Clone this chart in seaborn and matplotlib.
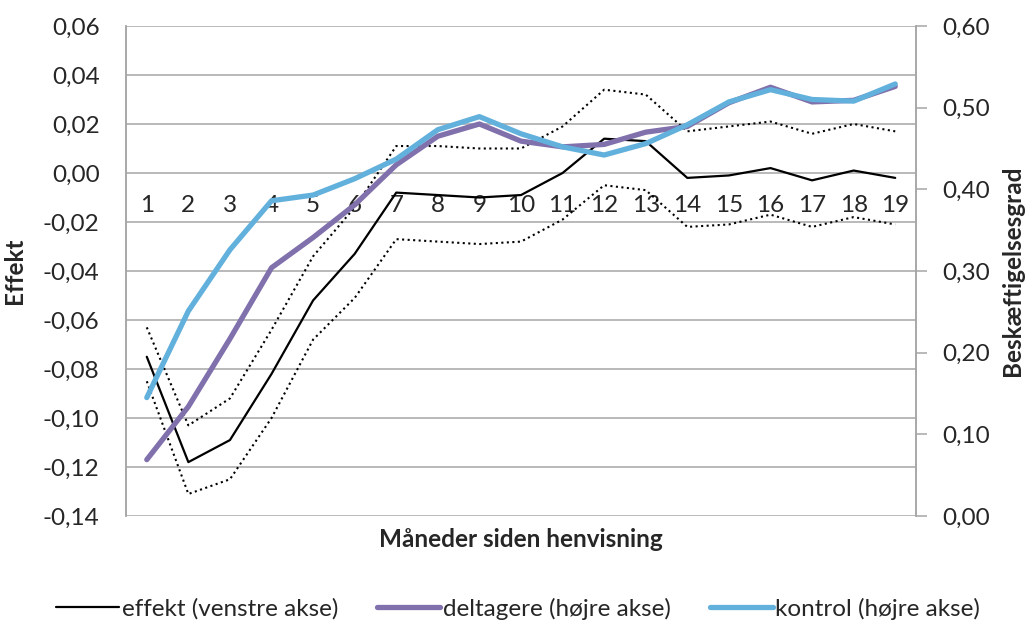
import numpy as np
import pandas as pd
import matplotlib
matplotlib.use("Agg")
import matplotlib.pyplot as plt
from matplotlib.lines import Line2D
from matplotlib.ticker import FuncFormatter
import seaborn as sns

# =========================
# DATA
# =========================
maaned = list(range(1, 20))
effekt = [-0.075, -0.118, -0.109, -0.082, -0.052, -0.033, -0.008, -0.009, -0.010, -0.009,
          -0.000, 0.014, 0.013, -0.002, -0.001, 0.002, -0.003, 0.001, -0.002]
ci_oevre = [-0.063, -0.103, -0.092, -0.064, -0.034, -0.014, 0.011, 0.011, 0.010, 0.010,
            0.019, 0.034, 0.032, 0.017, 0.019, 0.021, 0.016, 0.020, 0.017]
ci_nedre = [-0.085, -0.131, -0.125, -0.100, -0.068, -0.051, -0.027, -0.028, -0.029, -0.028,
            -0.019, -0.005, -0.007, -0.022, -0.021, -0.017, -0.022, -0.018, -0.021]
deltagere = [0.069, 0.134, 0.217, 0.304, 0.341, 0.381, 0.430, 0.465, 0.480, 0.459,
             0.452, 0.455, 0.470, 0.477, 0.506, 0.525, 0.507, 0.509, 0.526]
kontrol = [0.145, 0.251, 0.326, 0.386, 0.393, 0.413, 0.437, 0.473, 0.489, 0.468,
           0.452, 0.442, 0.456, 0.479, 0.507, 0.522, 0.510, 0.508, 0.529]

venstre_ticks = [-0.14, -0.12, -0.10, -0.08, -0.06, -0.04, -0.02, 0.00, 0.02, 0.04, 0.06]
hoejre_ticks = [0.0, 0.1, 0.2, 0.3, 0.4, 0.5, 0.6]

legend_labels = ["effekt (venstre akse)", "deltagere (højre akse)", "kontrol (højre akse)"]

df = pd.DataFrame({"maaned": maaned, "effekt": effekt, "ci_oevre": ci_oevre,
                   "ci_nedre": ci_nedre, "deltagere": deltagere, "kontrol": kontrol})

# =========================
# STYLE
# =========================
sns.set_style("white")
plt.rcParams["font.family"] = ["Lato", "DejaVu Sans"]
plt.rcParams["font.size"] = 17

GRID = "#A6A6A6"
PURPLE = "#8070AC"
BLUE = "#62B0DC"

fig = plt.figure(figsize=(10.26, 6.23), dpi=100)
ax = fig.add_axes([0.1228, 0.1717, 0.7700, 0.7866])
ax2 = ax.twinx()

# ---- left axis: effect + confidence band ----
sns.lineplot(data=df, x="maaned", y="ci_oevre", ax=ax, color="black", lw=1.5, linestyle=":")
sns.lineplot(data=df, x="maaned", y="ci_nedre", ax=ax, color="black", lw=1.5, linestyle=":")
sns.lineplot(data=df, x="maaned", y="effekt", ax=ax, color="black", lw=1.6)

# ---- right axis: employment rates ----
sns.lineplot(data=df, x="maaned", y="deltagere", ax=ax2, color=PURPLE, lw=3.8,
             solid_capstyle="round")
sns.lineplot(data=df, x="maaned", y="kontrol", ax=ax2, color=BLUE, lw=3.8,
             solid_capstyle="round")

ax.set_xlim(0.5, 19.5)
ax.set_ylim(-0.14, 0.06)
ax2.set_ylim(0, 0.6)

fmt = FuncFormatter(lambda v, p: f"{v:.2f}".replace(".", ",").replace("-0,00", "0,00"))
ax.set_yticks(venstre_ticks)
ax.yaxis.set_major_formatter(fmt)
ax2.set_yticks(hoejre_ticks)
ax2.yaxis.set_major_formatter(fmt)

ax.yaxis.grid(True, color=GRID, lw=1.1)
ax.set_axisbelow(True)

# category labels sit just under the zero line
ax.set_xticks(maaned)
ax.set_xticklabels([str(m) for m in maaned])
ax.spines["bottom"].set_position(("data", 0))
ax.spines["bottom"].set_visible(False)
ax.tick_params(axis="x", length=0, pad=16, labelsize=17.5)
ax.tick_params(axis="y", length=0, pad=19, labelsize=17.5)
ax2.tick_params(axis="y", length=8, width=1.1, color=GRID, direction="out", pad=11, labelsize=17.5)

for a in (ax, ax2):
    a.spines["top"].set_visible(False)
    a.spines["bottom"].set_visible(False)
    a.spines["left"].set_color(GRID)
    a.spines["right"].set_color(GRID)
    a.spines["left"].set_linewidth(1.1)
    a.spines["right"].set_linewidth(1.1)

ax.set_xlabel("Måneder siden henvisning", fontweight="bold", fontsize=17.5)
ax.xaxis.set_label_coords(0.5, -0.025)
ax.set_ylabel("Effekt", fontweight="bold", fontsize=17.5)
ax.yaxis.set_label_coords(-0.127, 0.5)
ax2.set_ylabel("Beskæftigelsesgrad", fontweight="bold", fontsize=17.5)
ax2.yaxis.set_label_coords(1.108, 0.5)

handles = [Line2D([], [], color="black", lw=1.6),
           Line2D([], [], color=PURPLE, lw=3.8),
           Line2D([], [], color=BLUE, lw=3.8)]
fig.legend(handles, legend_labels, loc="lower center", bbox_to_anchor=(0.505, -0.03),
           ncol=3, frameon=False, handlelength=2.6, handletextpad=0.1,
           columnspacing=1.6, fontsize=17.5)

fig.savefig("out.png", dpi=100)
